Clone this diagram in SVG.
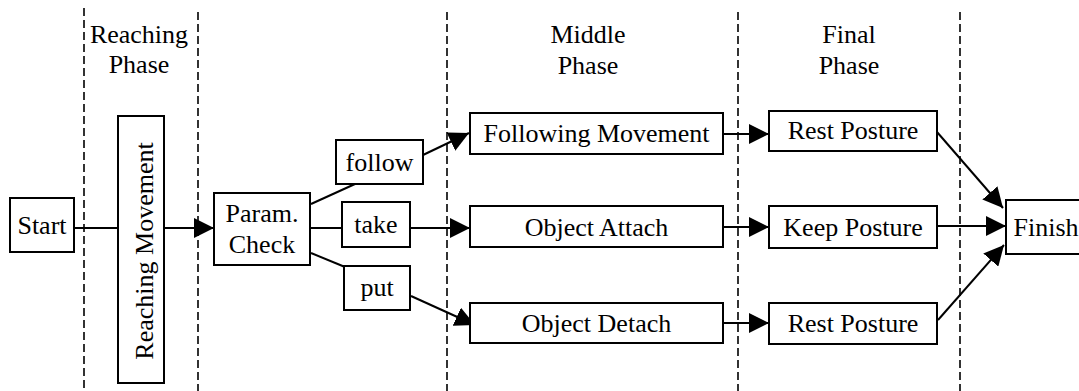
<svg xmlns="http://www.w3.org/2000/svg" width="1079" height="391" viewBox="0 0 1079 391">
  <style>
    .box { fill: #fff; stroke: #000; stroke-width: 2; }
    .lbl { font-family: "Liberation Serif", "Times New Roman", serif; font-size: 26px; fill: #000; text-anchor: middle; }
    .phase { stroke: #000; stroke-width: 1.6; stroke-dasharray: 8 4; fill: none; }
    .edge { stroke: #000; stroke-width: 2; fill: none; }
    .arrow { stroke: #000; stroke-width: 2; fill: none; marker-end: url(#head); }
  </style>
  <defs>
    <marker id="head" viewBox="0 0 20 20" refX="20" refY="10" markerWidth="20" markerHeight="20" markerUnits="userSpaceOnUse" orient="auto">
      <path d="M0,0 L20,10 L0,20 Z" fill="#000"/>
    </marker>
  </defs>
  <rect width="1079" height="391" fill="#fff"/>

  <!-- phase boundaries -->
  <g id="phase-lines">
    <line class="phase" x1="84" y1="8" x2="84" y2="391"/>
    <line class="phase" x1="198" y1="12" x2="198" y2="391"/>
    <line class="phase" x1="447" y1="12" x2="447" y2="391"/>
    <line class="phase" x1="738" y1="12" x2="738" y2="391"/>
    <line class="phase" x1="960" y1="12" x2="960" y2="391"/>
  </g>

  <!-- phase headings -->
  <g id="phase-titles">
    <text class="lbl" x="139" y="43">Reaching</text>
    <text class="lbl" x="139" y="73">Phase</text>
    <text class="lbl" x="588" y="43">Middle</text>
    <text class="lbl" x="588" y="74">Phase</text>
    <text class="lbl" x="849" y="43">Final</text>
    <text class="lbl" x="849" y="74">Phase</text>
  </g>

  <!-- connectors -->
  <g id="connectors">
    <line class="edge" x1="74" y1="228" x2="118" y2="228"/>
    <line class="arrow" x1="164" y1="228" x2="214" y2="228"/>
    <line class="edge" x1="311" y1="204" x2="355" y2="184"/>
    <line class="edge" x1="311" y1="228" x2="342" y2="228"/>
    <line class="edge" x1="311" y1="253" x2="345" y2="267"/>
    <line class="arrow" x1="423" y1="155" x2="469" y2="133"/>
    <line class="arrow" x1="410" y1="228" x2="470" y2="228"/>
    <line class="arrow" x1="411" y1="296" x2="475" y2="325"/>
    <line class="arrow" x1="723" y1="134" x2="769" y2="134"/>
    <line class="arrow" x1="723" y1="227" x2="769" y2="227"/>
    <line class="arrow" x1="723" y1="323" x2="769" y2="323"/>
    <line class="arrow" x1="937" y1="132" x2="1003" y2="208"/>
    <line class="arrow" x1="937" y1="226" x2="1006" y2="226"/>
    <line class="arrow" x1="938" y1="320" x2="1004" y2="245"/>
  </g>

  <g id="start">
    <rect class="box" x="10" y="198" width="64" height="54"/>
    <text class="lbl" x="42" y="234">Start</text>
  </g>
  <g id="reaching-movement">
    <rect class="box" x="118" y="116" width="46" height="267"/>
    <text class="lbl" transform="translate(144,251) rotate(-90)" x="0" y="9">Reaching Movement</text>
  </g>
  <g id="param-check">
    <rect class="box" x="214" y="193" width="96" height="72"/>
    <text class="lbl" x="262" y="222">Param.</text>
    <text class="lbl" x="262" y="253">Check</text>
  </g>
  <g id="follow">
    <rect class="box" x="336" y="140" width="87" height="44"/>
    <text class="lbl" x="379.5" y="171">follow</text>
  </g>
  <g id="take">
    <rect class="box" x="342" y="202" width="68" height="45"/>
    <text class="lbl" x="376" y="233">take</text>
  </g>
  <g id="put">
    <rect class="box" x="344" y="266" width="66" height="44"/>
    <text class="lbl" x="377" y="296">put</text>
  </g>
  <g id="following-movement">
    <rect class="box" x="470" y="113" width="253" height="41"/>
    <text class="lbl" x="596.5" y="142">Following Movement</text>
  </g>
  <g id="object-attach">
    <rect class="box" x="470" y="206" width="253" height="41"/>
    <text class="lbl" x="596.5" y="236">Object Attach</text>
  </g>
  <g id="object-detach">
    <rect class="box" x="470" y="303" width="253" height="40"/>
    <text class="lbl" x="596.5" y="332">Object Detach</text>
  </g>
  <g id="rest-posture-top">
    <rect class="box" x="769" y="111" width="168" height="40"/>
    <text class="lbl" x="853" y="139">Rest Posture</text>
  </g>
  <g id="keep-posture">
    <rect class="box" x="769" y="206" width="168" height="42"/>
    <text class="lbl" x="853" y="236">Keep Posture</text>
  </g>
  <g id="rest-posture-bottom">
    <rect class="box" x="769" y="303" width="168" height="41"/>
    <text class="lbl" x="853" y="332">Rest Posture</text>
  </g>
  <g id="finish">
    <rect class="box" x="1006" y="200" width="84" height="54"/>
    <text class="lbl" x="1046" y="236">Finish</text>
  </g>
</svg>
